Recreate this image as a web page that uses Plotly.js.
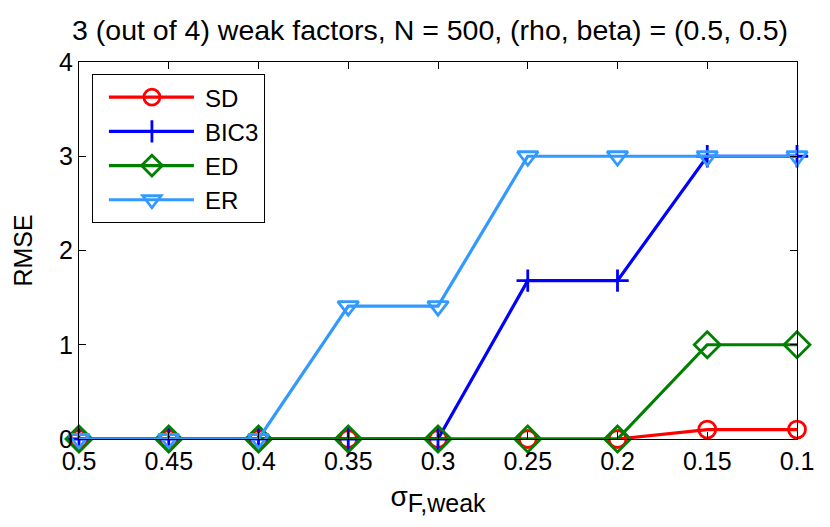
<!DOCTYPE html>
<html>
<head>
<meta charset="utf-8">
<script src="https://cdn.plot.ly/plotly-3.0.1.min.js"></script>
<style>
  body { margin: 0; background: #fff; }
  #myDiv { width: 830px; height: 527px; }
</style>
</head>
<body>
<div id="myDiv"></div>
<script>
// sigma_F,weak values on the x axis (drawn from 0.5 down to 0.1)
var sigma = [0.5, 0.45, 0.4, 0.35, 0.3, 0.25, 0.2, 0.15, 0.1];
var sigmaLabels = ['0.5', '0.45', '0.4', '0.35', '0.3', '0.25', '0.2', '0.15', '0.1'];

// RMSE of each estimator
var rmseSD   = [0, 0, 0, 0, 0, 0, 0, 0.1, 0.1];
var rmseBIC3 = [0, 0, 0, 0, 0, 1.68, 1.68, 3, 3];
var rmseED   = [0, 0, 0, 0, 0, 0, 0, 1, 1];
var rmseER   = [0, 0, 0, 1.41, 1.41, 3, 3, 3, 3];

function makeTrace(name, y, color, symbol, size) {
    return {
        x: sigma,
        y: y,
        name: name,
        mode: 'lines+markers',
        cliponaxis: false,
        line: { color: color, width: 3.2 },
        marker: { symbol: symbol, size: size, color: color, line: { color: color, width: 2.8 } }
    };
}

var data = [
    makeTrace('SD', rmseSD, '#ff0000', 'circle-open', 17),
    makeTrace('BIC3', rmseBIC3, '#0000ff', 'cross-thin-open', 16),
    makeTrace('ED', rmseED, '#008000', 'diamond-open', 20),
    makeTrace('ER', rmseER, '#3399ff', 'triangle-down-open', 18)
];

var fontFam = 'Liberation Sans, Arial, Helvetica, sans-serif';

var layout = {
    width: 830,
    height: 527,
    margin: { l: 79, r: 33, t: 62, b: 88 },
    paper_bgcolor: '#ffffff',
    plot_bgcolor: '#ffffff',
    font: { family: fontFam, size: 25, color: '#000' },
    showlegend: true,
    title: {
        text: '3 (out of 4) weak factors, N = 500, (rho, beta) = (0.5, 0.5)',
        font: { family: fontFam, size: 28.5, color: '#000' },
        x: 0.489, xref: 'paper', y: 0.943, yref: 'container', yanchor: 'middle'
    },
    xaxis: {
        range: [0.5, 0.1],
        tickvals: sigma,
        ticktext: sigmaLabels,
        ticks: 'inside',
        ticklen: 7,
        tickcolor: '#000',
        showline: true,
        linecolor: '#000',
        linewidth: 1,
        mirror: 'ticks',
        showgrid: false,
        zeroline: false,
        tickfont: { size: 25 },
        title: { text: 'σ<sub><span style="font-size:25px">F,weak</span></sub>', font: { size: 28 }, standoff: 12 }
    },
    yaxis: {
        range: [0, 4],
        tickvals: [0, 1, 2, 3, 4],
        ticks: 'inside',
        ticklen: 7,
        tickcolor: '#000',
        showline: true,
        linecolor: '#000',
        linewidth: 1,
        mirror: 'ticks',
        showgrid: false,
        zeroline: false,
        tickfont: { size: 25 },
        title: { text: 'RMSE', font: { size: 25 }, standoff: 19 }
    },
    legend: {
        x: 0.018, y: 0.968, xanchor: 'left', yanchor: 'top',
        bgcolor: '#ffffff',
        bordercolor: '#000',
        borderwidth: 1,
        font: { size: 24 },
        itemwidth: 102,
        tracegroupgap: 0
    }
};

Plotly.newPlot('myDiv', data, layout, { displayModeBar: false, staticPlot: true }).then(function (gd) {
    // stretch the legend line samples like MATLAB does
    gd.querySelectorAll('.legend .legendlines path').forEach(function (p) {
        p.setAttribute('d', 'M16,0h85');
    });
    gd.querySelectorAll('.legend .legendpoints path').forEach(function (p) {
        p.setAttribute('transform', 'translate(59,0)');
    });
});
</script>
</body>
</html>
